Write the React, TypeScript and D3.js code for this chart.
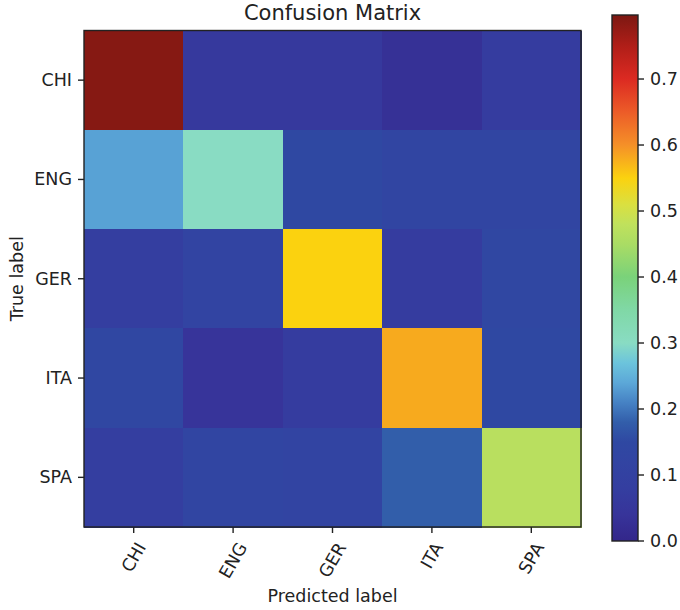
import React from "react";
import { scaleBand, scaleLinear } from "d3";

// class names (same order on both axes)
const labels = ["CHI", "ENG", "GER", "ITA", "SPA"];

// rows = true label, columns = predicted label
const chiRow = [0.79, 0.06, 0.06, 0.03, 0.07];
const engRow = [0.235, 0.3, 0.15, 0.13, 0.13];
const gerRow = [0.08, 0.12, 0.55, 0.07, 0.14];
const itaRow = [0.14, 0.04, 0.07, 0.58, 0.15];
const spaRow = [0.08, 0.13, 0.12, 0.18, 0.47];
const matrix = [chiRow, engRow, gerRow, itaRow, spaRow];

// colour range + colorbar ticks
const vmin = 0;
const vmax = 0.797;
const cbarTicks = [0, 0.1, 0.2, 0.3, 0.4, 0.5, 0.6, 0.7];

// colormap
const cmapStops = [0, 0.04, 0.08, 0.12, 0.15, 0.18, 0.21, 0.24, 0.27, 0.3, 0.35, 0.4, 0.45, 0.48, 0.51, 0.55, 0.6, 0.65, 0.7, 0.75, 0.8];
const cmapColors = [
  "#33268a", "#37349a", "#343ea0", "#3244a2", "#2f48a2", "#325eaa", "#4682c4",
  "#5ca8d8", "#6cc4dc", "#89dcc3", "#80d8a6", "#7ad27a", "#aadc64", "#c0e15c",
  "#dae040", "#fbd20f", "#f59028", "#ec5c28", "#dc2a22", "#b01e18", "#7c1812",
];

const font = "DejaVu Sans, sans-serif";
const textColor = "#222";

function textWidth(s: string, size: number) {
  const c = document.createElement("canvas").getContext("2d");
  if (!c) return s.length * size * 0.6;
  c.font = `${size}px DejaVu Sans`;
  return c.measureText(s).width;
}

export default function App() {
  const width = 680;
  const height = 610;

  // matrix area
  const left = 84, right = 581, top = 30.5, bottom = 527;
  const x = scaleBand<string>().domain(labels).range([left, right]);
  const y = scaleBand<string>().domain(labels).range([top, bottom]);

  const color = scaleLinear<string>().domain(cmapStops).range(cmapColors).clamp(true);

  // colorbar
  const cbLeft = 612, cbRight = 638;
  const cbY = scaleLinear().domain([vmin, vmax]).range([541, 15]);

  const tickLen = 6;
  const fs = 17.5;
  const rot = (60 * Math.PI) / 180;
  const lineH = fs * 1.17;

  return (
    <svg width={width} height={height} style={{ position: "fixed", left: 0, top: 0, background: "#fff" }}>
      <defs>
        <linearGradient id="cbar" x1="0" y1="1" x2="0" y2="0">
          {cmapStops.map((s, i) => (
            <stop key={i} offset={Math.min(1, (s - vmin) / (vmax - vmin))} stopColor={cmapColors[i]} />
          ))}
        </linearGradient>
      </defs>

      {/* title */}
      <text x={(left + right) / 2} y={20} textAnchor="middle" fontFamily={font} fontSize={21} fill={textColor}>
        Confusion Matrix
      </text>

      {/* cells */}
      <g shapeRendering="crispEdges">
        {matrix.map((row, i) =>
          row.map((v, j) => (
            <rect
              key={`${i}-${j}`}
              x={x(labels[j])}
              y={y(labels[i])}
              width={x.bandwidth() + 0.5}
              height={y.bandwidth() + 0.5}
              fill={color(v)}
            />
          ))
        )}
      </g>
      <rect x={left} y={top} width={right - left} height={bottom - top} fill="none" stroke={textColor} strokeWidth={1.4} />

      {/* y axis */}
      {labels.map((l) => {
        const cy = (y(l) as number) + y.bandwidth() / 2;
        return (
          <g key={"y" + l}>
            <line x1={left - tickLen} x2={left} y1={cy} y2={cy} stroke={textColor} strokeWidth={1.4} />
            <text x={left - tickLen - 6} y={cy} textAnchor="end" dominantBaseline="central" fontFamily={font} fontSize={fs} fill={textColor}>
              {l}
            </text>
          </g>
        );
      })}
      <text
        transform={`translate(23,${(top + bottom) / 2}) rotate(-90)`}
        textAnchor="middle"
        fontFamily={font}
        fontSize={fs}
        fill={textColor}
      >
        True label
      </text>

      {/* x axis, labels rotated 60deg, bbox centred under tick */}
      {labels.map((l) => {
        const cx = (x(l) as number) + x.bandwidth() / 2;
        const w = textWidth(l, fs);
        const bh = w * Math.sin(rot) + lineH * Math.cos(rot);
        const cy = bottom + tickLen + 6 + bh / 2;
        return (
          <g key={"x" + l}>
            <line x1={cx} x2={cx} y1={bottom} y2={bottom + tickLen} stroke={textColor} strokeWidth={1.4} />
            <text
              transform={`translate(${cx},${cy}) rotate(-60)`}
              textAnchor="middle"
              dominantBaseline="central"
              fontFamily={font}
              fontSize={fs}
              fill={textColor}
            >
              {l}
            </text>
          </g>
        );
      })}
      <text x={(left + right) / 2} y={602} textAnchor="middle" fontFamily={font} fontSize={fs} fill={textColor}>
        Predicted label
      </text>

      {/* colorbar */}
      <rect x={cbLeft} y={cbY(vmax)} width={cbRight - cbLeft} height={cbY(vmin) - cbY(vmax)} fill="url(#cbar)" />
      <rect x={cbLeft} y={cbY(vmax)} width={cbRight - cbLeft} height={cbY(vmin) - cbY(vmax)} fill="none" stroke={textColor} strokeWidth={1.4} />
      {cbarTicks.map((t) => (
        <g key={"c" + t}>
          <line x1={cbRight} x2={cbRight + tickLen} y1={cbY(t)} y2={cbY(t)} stroke={textColor} strokeWidth={1.4} />
          <text x={cbRight + tickLen + 6} y={cbY(t)} dominantBaseline="central" fontFamily={font} fontSize={fs} fill={textColor}>
            {t.toFixed(1)}
          </text>
        </g>
      ))}
    </svg>
  );
}
